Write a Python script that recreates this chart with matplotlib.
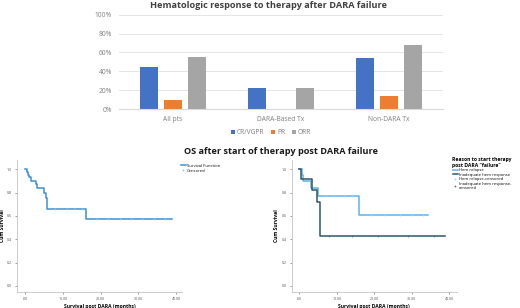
import numpy as np
import matplotlib.pyplot as plt

plt.rcParams['font.family'] = ['Open Sans', 'DejaVu Sans']

# Respuesta hematologica (%)
groups = ['All pts', 'DARA-Based Tx', 'Non-DARA Tx']
cr_vgpr = [45, 22, 54]
pr = [10, 0, 13.5]
orr = [55, 22, 68]
pct_ticks = [0, 20, 40, 60, 80, 100]

# Supervivencia - todos los pacientes
all_t = [0, 0.45, 0.8, 1.15, 1.5, 2.9, 3.3, 5.0, 5.45, 5.7, 16.1, 38.8]
all_s = [1.0, 0.974, 0.953, 0.93, 0.90, 0.87, 0.84, 0.80, 0.75, 0.66, 0.57, 0.57]
all_cens = [8, 11, 13, 15, 19, 22, 25, 28, 31, 34, 37]

# Supervivencia por motivo
rel_t = [0, 0.6, 1.0, 3.0, 5.0, 16.0, 34.4]
rel_s = [1.0, 0.95, 0.90, 0.84, 0.77, 0.61, 0.61]
rel_cens = [7, 9, 12, 14, 19, 23, 27, 30, 33]
inad_t = [0, 0.4, 3.3, 4.8, 5.5, 39.0]
inad_s = [1.0, 0.914, 0.823, 0.72, 0.43, 0.43]
inad_cens = [8, 14, 21, 29, 36]

surv_ticks = [0, 10, 20, 30, 40]
surv_labels = ['.00', '10.00', '20.00', '30.00', '40.00']

W, H = 520, 308
fig = plt.figure(figsize=(W / 100, H / 100), dpi=100)


def px_axes(x0, y0, x1, y1):
    return fig.add_axes([x0 / W, 1 - y1 / H, (x1 - x0) / W, (y1 - y0) / H])


# Grafica de barras
ax = px_axes(119, 14.7, 443, 109)
x = np.arange(len(groups))
bw = 0.17
grey_txt = '#7f7f7f'
ax.bar(x - 0.22, cr_vgpr, bw, color='#4472C4', label='CR/VGPR')
ax.bar(x, pr, bw, color='#ED7D31', label='PR')
ax.bar(x + 0.22, orr, bw, color='#A5A5A5', label='ORR')
ax.set_xlim(-0.5, 2.5)
ax.set_ylim(0, 100)
ax.set_yticks(pct_ticks)
ax.set_yticklabels([f'{v}%' for v in pct_ticks])
ax.set_xticks(x)
ax.set_xticklabels(groups)
ax.tick_params(length=0, labelsize=4.8, colors=grey_txt, pad=5)
ax.grid(axis='y', color='#E0E0E0', lw=0.6)
ax.set_axisbelow(True)
for s in ['top', 'right', 'left']:
    ax.spines[s].set_visible(False)
ax.spines['bottom'].set_color('#D9D9D9')
ax.legend(loc='center', bbox_to_anchor=(0.47, -0.25), ncol=3, frameon=False,
          fontsize=4.8, handlelength=0.6, handleheight=0.6, columnspacing=1.0,
          handletextpad=0.3, labelcolor=grey_txt)

fig.text(268 / W, 1 - 6 / H, 'Hematologic response to therapy after DARA failure',
         ha='center', va='center', fontsize=6.6, fontweight='bold', color='#404040')
fig.text(281.5 / W, 1 - 152 / H, 'OS after start of therapy post DARA failure',
         ha='center', va='center', fontsize=6.6, fontweight='bold', color='#1a1a1a')


def km_axes(ax):
    ax.set_ylim(-0.049, 1.08)
    ax.set_yticks([0, 0.2, 0.4, 0.6, 0.8, 1.0])
    ax.set_yticklabels(['0.0', '0.2', '0.4', '0.6', '0.8', '1.0'])
    ax.set_xticks(surv_ticks)
    ax.set_xticklabels(surv_labels)
    ax.tick_params(labelsize=2.6, length=1.2, width=0.4, colors='#555555', pad=2.5)
    for s in ['top', 'right']:
        ax.spines[s].set_visible(False)
    for s in ['left', 'bottom']:
        ax.spines[s].set_color('#c4c4c4')
        ax.spines[s].set_linewidth(0.6)
    ax.set_xlabel('Survival post DARA (months)', fontsize=3.6, fontweight='bold',
                  labelpad=2)
    ax.set_ylabel('Cum Survival', fontsize=3.6, fontweight='bold', labelpad=1.5)


def cens_vals(t_arr, s_arr, cens):
    return [s_arr[np.searchsorted(t_arr, c, side='right') - 1] for c in cens]


# Curva KM izquierda
ax1 = px_axes(17, 160, 182, 291.7)
ax1.set_xlim(-2.1, 41.5)
ax1.step(all_t, all_s, where='post', color='#3d8fd1', lw=1.1, label='Survival Function')
ax1.plot(all_cens, cens_vals(all_t, all_s, all_cens), '+', color='#8cc8ef', ms=2,
         mew=0.5, label='Censored')
km_axes(ax1)
ax1.legend(loc='upper left', bbox_to_anchor=(0.97, 1.0), frameon=False, fontsize=3,
           handlelength=1.2, handletextpad=0.3, labelspacing=0.2)

# Curva KM derecha
ax2 = px_axes(291.7, 160, 456.7, 291.7)
ax2.set_xlim(-2.03, 42)
ax2.step(rel_t, rel_s, where='post', color='#5cb3e8', lw=1.1, label='Hem relapse')
ax2.step(inad_t, inad_s, where='post', color='#2c5866', lw=1.1,
         label='Inadequate hem response')
ax2.plot(rel_cens, cens_vals(rel_t, rel_s, rel_cens), '+', color='#9dd3f2', ms=2,
         mew=0.5, label='Hem relapse-censored')
ax2.plot(inad_cens, cens_vals(inad_t, inad_s, inad_cens), '+', color='#4a6f78', ms=2,
         mew=0.5, label='Inadequate hem response-\ncensored')
km_axes(ax2)
leg = ax2.legend(loc='upper left', bbox_to_anchor=(0.95, 1.05), frameon=False,
                 fontsize=3, handlelength=1.2, handletextpad=0.3, labelspacing=0.1,
                 title='Reason to start therapy\npost DARA "failure"',
                 title_fontproperties={'size': 3.6, 'weight': 'bold'})

fig.savefig('out.png', dpi=100)
